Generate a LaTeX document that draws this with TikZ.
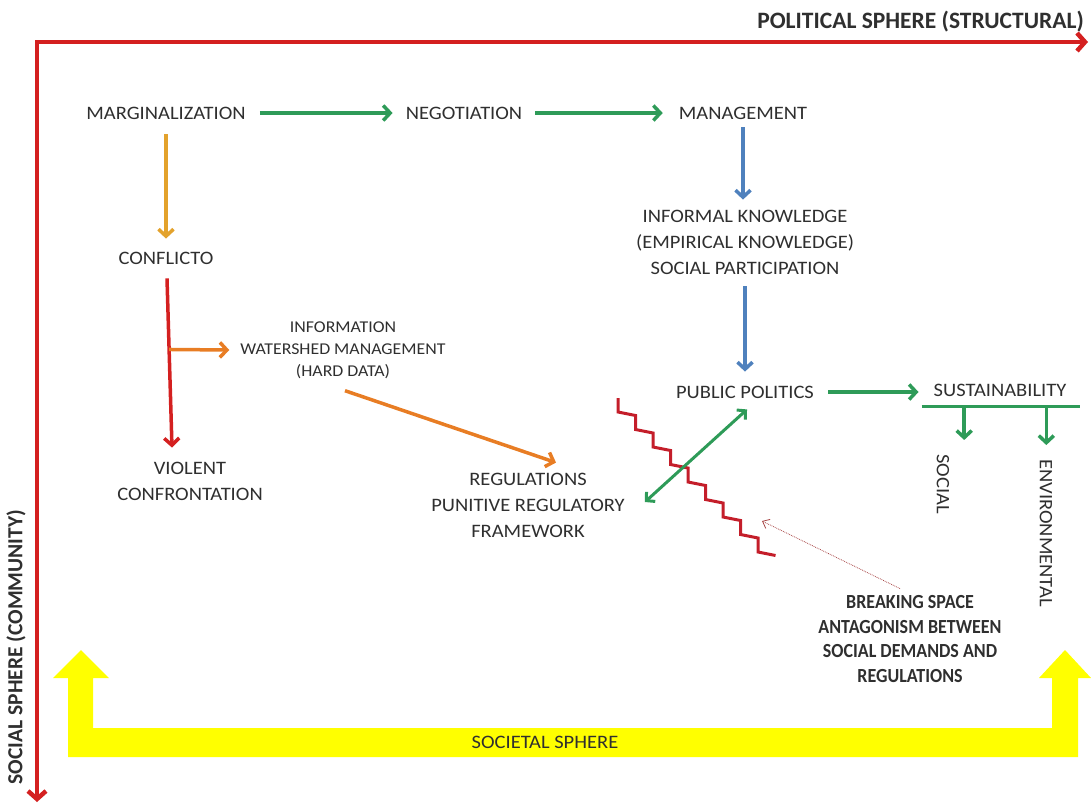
\documentclass[tikz,border=0pt]{standalone}
\usepackage{fontspec}
\setmainfont{Carlito}[FakeStretch=1.08]
\newfontfamily\axisfont{Carlito}
\newfontfamily\condfont{Carlito}[FakeStretch=0.9]
\usetikzlibrary{arrows.meta,calc}

\definecolor{txt}{HTML}{2F2F2F}
\definecolor{axisred}{HTML}{D42020}
\definecolor{zigred}{HTML}{C41E2A}
\definecolor{flowgreen}{HTML}{2E9B58}
\definecolor{flowblue}{HTML}{4F81BD}
\definecolor{flowgold}{HTML}{E3A22C}
\definecolor{floworange}{HTML}{E87D24}
\definecolor{hintred}{HTML}{A84848}
\definecolor{sphereyellow}{HTML}{FFFF00}

\tikzset{
  lbl/.style={font=\fontsize{19}{26}\selectfont, text=txt, inner sep=0pt, align=center},
  lblsmall/.style={font=\fontsize{16.5}{22}\selectfont, text=txt, inner sep=0pt, align=center},
  boldlbl/.style={font=\condfont\bfseries\fontsize{20}{24.4}\selectfont, text=txt, inner sep=0pt, align=center},
  axislbl/.style={font=\axisfont\bfseries\fontsize{23.5}{28}\selectfont, text=txt, inner sep=0pt},
  barb/.style={-{Straight Barb[length=7pt,width=15pt]}},
  garrow/.style={draw=flowgreen, line width=3.5pt, barb},
  barrow/.style={draw=flowblue, line width=3.5pt, barb},
  goldarrow/.style={draw=flowgold, line width=3.5pt, barb},
  oarrow/.style={draw=floworange, line width=3.5pt, barb},
  rarrow/.style={draw=axisred, line width=3.5pt, barb},
  axisline/.style={draw=axisred, line width=4.5pt,
    {Straight Barb[length=8pt,width=18pt]}-{Straight Barb[length=8pt,width=18pt]}},
  zig/.style={draw=zigred, line width=3pt, line join=miter},
  hint/.style={draw=hintred, line width=0.8pt, densely dotted, -{Straight Barb[length=6pt,width=10pt]}},
}

\begin{document}
\begin{tikzpicture}[x=1pt, y=-1pt]
  \useasboundingbox (0,0) rectangle (1091,804);

  % societal sphere: yellow U-shaped double arrow
  \fill[sphereyellow]
    (68,757) -- (68,678) -- (53,678) -- (81,650) -- (109,678) -- (93,678)
    -- (93,728) -- (1052,728) -- (1052,678) -- (1039,678) -- (1065,650)
    -- (1091,678) -- (1078,678) -- (1078,757) -- cycle;
  \node[lbl] (societal) at (545,742) {SOCIETAL SPHERE};

  % axes of the political and social spheres
  \coordinate (origin) at (37,42);
  \coordinate (polend) at (1088,42);
  \coordinate (socend) at (37,802);
  \draw[axisline] (socend) -- (origin) -- (polend);
  \node[axislbl, anchor=east] (political) at (1084,22) {POLITICAL SPHERE (STRUCTURAL)};
  \node[axislbl, rotate=90, font=\axisfont\bfseries\fontsize{21.5}{26}\selectfont] (community) at (16,647) {SOCIAL SPHERE (COMMUNITY)};

  % concepts
  \node[lbl] (marg) at (166,113) {MARGINALIZATION};
  \node[lbl] (nego) at (464,113) {NEGOTIATION};
  \node[lbl] (mgmt) at (743,113) {MANAGEMENT};
  \node[lbl] (conf) at (166,258) {CONFLICTO};
  \node[lblsmall] (info) at (343,350) {INFORMATION\\WATERSHED MANAGEMENT\\(HARD DATA)};
  \node[lbl] (viol) at (190,481) {VIOLENT\\CONFRONTATION};
  \node[lbl] (regs) at (528,505) {REGULATIONS\\PUNITIVE REGULATORY\\FRAMEWORK};
  \node[lbl] (know) at (745,242) {INFORMAL KNOWLEDGE\\(EMPIRICAL KNOWLEDGE)\\SOCIAL PARTICIPATION};
  \node[lbl] (pub) at (745,392) {PUBLIC POLITICS};
  \node[lbl] (sust) at (1000,390) {SUSTAINABILITY};
  \node[lbl, rotate=-90] (soc) at (943,484) {SOCIAL};
  \node[lbl, rotate=-90] (env) at (1046,533) {ENVIRONMENTAL};
  \node[boldlbl] (brk) at (910,639) {BREAKING SPACE\\ANTAGONISM BETWEEN\\SOCIAL DEMANDS AND\\REGULATIONS};

  % top row
  \draw[garrow] ($(marg.east)+(14,0)$) -- ($(nego.west)+(-13,0)$);
  \draw[garrow] ($(nego.east)+(13,0)$) -- ($(mgmt.west)+(-16,0)$);

  % conflict branch
  \draw[goldarrow] ($(marg.south)+(0,15)$) -- ($(conf.north)+(0,-13)$);
  \coordinate (cfrom) at ($(conf.south)+(1,14)$);
  \coordinate (cto) at ($(viol.north)+(-18,-14)$);
  \draw[rarrow] (cfrom) -- (cto);
  \draw[oarrow] ($(cfrom)!0.42!(cto)$) -- ($(info.west)+(-11,0)$);
  \draw[oarrow] ($(info.south)+(2,12)$) -- ($(regs.north)+(28,-10)$);

  % management branch
  \draw[barrow] ($(mgmt.south)+(0,8)$) -- ($(know.north)+(-2,-10)$);
  \draw[barrow] ($(know.south)+(0,12)$) -- ($(pub.north)+(0,-14)$);
  \coordinate (pubout) at ($(pub.east)+(14,0)$);
  \draw[garrow] (pubout) -- ($(pubout -| sust.west)+(-15,0)$);

  % sustainability split
  \coordinate (barL) at ($(sust.south west)+(-12,10)$);
  \coordinate (barR) at ($(sust.south east)+(13,10)$);
  \draw[draw=flowgreen, line width=3.5pt] (barL) -- (barR);
  \coordinate (b1) at ($(barL)!0.27!(barR)$);
  \coordinate (b2) at ($(barL)!0.79!(barR)$);
  \draw[garrow] (b1) -- ($(b1 |- soc.west)+(0,-14)$);
  \draw[garrow] (b2) -- ($(b2 |- env.west)+(0,-14)$);

  % breaking space between regulations and public politics
  \draw[zig] (618,398) \foreach \i in {1,...,9} { -- ++(0,14) -- ++(17.5,3.5) };
  \draw[draw=flowgreen, line width=3pt, {Straight Barb[length=6pt,width=13pt]}-{Straight Barb[length=6pt,width=13pt]}]
    ($(regs.east)+(20,-3)$) -- ($(pub.south)+(2,11)$);
  \coordinate (zz) at (762,521);
  \draw[hint] ($(brk.north)+(-10,-7)$) -- (zz);
\end{tikzpicture}
\end{document}
